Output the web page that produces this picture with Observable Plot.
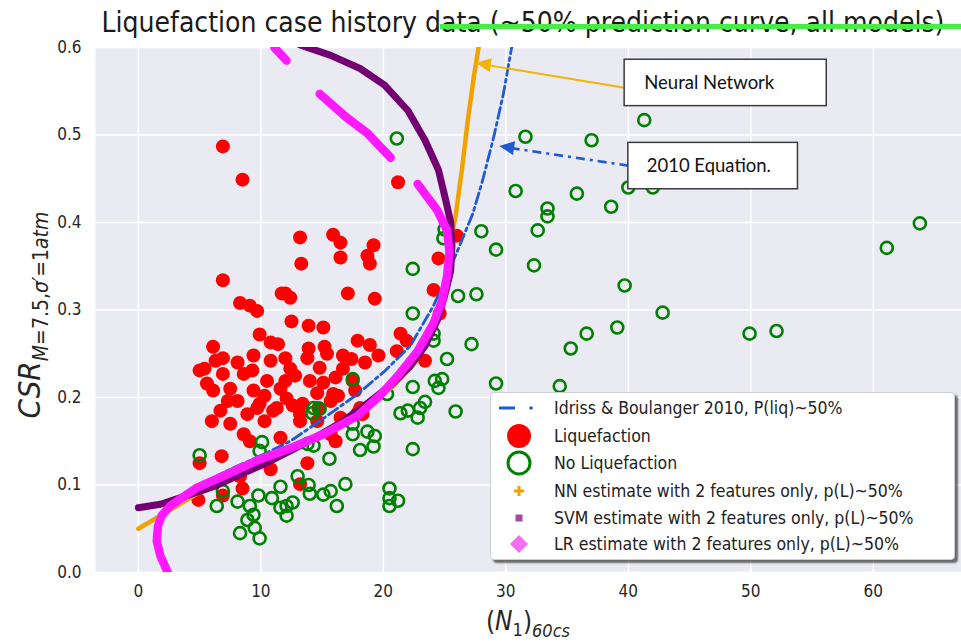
<!DOCTYPE html>
<html><head><meta charset="utf-8">
<script src="https://cdn.jsdelivr.net/npm/d3@7"></script>
<script src="https://cdn.jsdelivr.net/npm/@observablehq/plot@0.6"></script>
<style>
body{margin:0;background:#fff;}
#wrap{position:relative;width:961px;height:642px;overflow:hidden;background:#fff;}
#title{position:absolute;left:90px;top:7px;width:866px;text-align:center;font-family:"DejaVu Sans Condensed","DejaVu Sans",sans-serif;font-stretch:condensed;font-size:28px;line-height:32px;color:#1a1a1a;white-space:nowrap;}
#strike{position:absolute;left:440px;top:24px;width:521px;height:5px;background:#47ec47;}
#chart{position:absolute;left:0;top:40px;}
#legend{position:absolute;left:490px;top:392px;width:463px;height:166px;background:#fff;border:1px solid #cfcfcf;border-radius:4px;box-shadow:3px 3px 2px rgba(0,0,0,0.55);}
</style></head><body>
<div id="wrap">
  <div id="title">Liquefaction case history data (~50% prediction curve, all models)</div>
  <div id="strike"></div>
  <div id="chart"></div>
  <div id="legend"></div>
</div>
<script>
// ---- data ----
const liqN = [6.9,8.5,21.2,13.2,15.9,16.5,19.2,13.3,16.5,18.7,18.9,6.9,12.0,12.4,17.1,19.3,8.3,9.1,9.7,12.5,13.9,15.1,9.9,10.8,11.4,6.1,9.4,12.0,13.9,15.2,13.8,15.4,17.9,18.9,16.7,17.4,18.5,19.6,6.9,8.1,5.0,5.4,6.9,8.6,10.5,12.8,14.0,15.1,5.6,7.5,9.4,11.6,15.9,14.6,6.7,8.1,9.9,11.3,12.6,13.4,14.7,15.7,8.9,13.2,17.9,18.3,24.5,24.1,26.0,23.4,21.4,21.9,21.1,14.8,16.1,17.5,16.3,18.1,16.5,15.7,16.1,7.5,8.6,6.8,5.0,8.3,8.5,6.9,4.9,10.8,13.8,11.6,13.2,9.7,11.0,13.2,6.1,7.3,10.3,12.0,9.3,6.3,12.4,10.8,16.7,17.7,6.0,10.3,9.1,12.1,14.6,24.6,11.7];
const liqCSR = [0.487,0.449,0.446,0.383,0.386,0.377,0.374,0.353,0.360,0.362,0.353,0.334,0.319,0.314,0.319,0.313,0.308,0.305,0.299,0.287,0.282,0.280,0.272,0.263,0.261,0.258,0.248,0.245,0.256,0.258,0.245,0.250,0.265,0.260,0.248,0.244,0.240,0.248,0.245,0.240,0.231,0.233,0.227,0.227,0.219,0.225,0.219,0.217,0.216,0.210,0.208,0.210,0.204,0.205,0.185,0.196,0.193,0.188,0.191,0.193,0.188,0.196,0.181,0.181,0.182,0.181,0.359,0.323,0.385,0.242,0.273,0.265,0.253,0.234,0.223,0.219,0.202,0.188,0.177,0.158,0.150,0.170,0.158,0.133,0.125,0.110,0.096,0.088,0.083,0.118,0.125,0.154,0.173,0.188,0.185,0.101,0.208,0.196,0.202,0.219,0.231,0.242,0.233,0.242,0.233,0.208,0.173,0.173,0.150,0.199,0.173,0.296,0.319];
const noLiqN = [21.1,41.3,31.6,37.0,30.8,35.8,40.0,42.0,33.4,33.4,38.6,32.6,28.0,29.2,63.8,61.1,32.3,39.7,42.8,26.1,27.6,49.9,52.1,36.6,39.1,35.3,27.2,25.2,29.2,34.4,24.8,22.4,25.0,24.9,22.4,24.1,24.1,17.5,22.4,24.2,24.5,20.3,23.4,23.0,21.4,22.0,22.8,25.9,14.3,14.8,14.2,5.0,10.1,9.9,17.5,18.7,19.3,17.5,18.1,19.2,22.4,13.8,14.3,15.6,13.0,13.9,15.7,16.9,15.1,16.2,11.6,10.9,12.1,12.6,9.8,9.1,8.1,6.4,6.9,9.4,8.9,9.5,8.3,9.9,20.5,20.5,21.2,20.5,14.0,12.1,11.6];
const noLiqCSR = [0.496,0.517,0.498,0.494,0.436,0.433,0.440,0.440,0.416,0.407,0.418,0.391,0.390,0.369,0.399,0.371,0.351,0.328,0.297,0.316,0.318,0.273,0.276,0.273,0.280,0.256,0.261,0.244,0.216,0.213,0.221,0.347,0.392,0.382,0.296,0.273,0.265,0.221,0.212,0.219,0.211,0.204,0.195,0.188,0.182,0.185,0.177,0.184,0.188,0.187,0.182,0.134,0.149,0.139,0.170,0.161,0.156,0.158,0.140,0.144,0.141,0.147,0.145,0.130,0.110,0.100,0.093,0.101,0.089,0.076,0.098,0.085,0.076,0.080,0.088,0.076,0.081,0.076,0.093,0.066,0.060,0.051,0.045,0.039,0.096,0.085,0.082,0.076,0.090,0.065,0.074];
const ibN   = [4.5,7.5,9.9,12.4,15.1,17.9,20.1,22.2,24.1,25.2,26.3,27.3,28.1,29.0,29.8,30.5];
const ibCSR = [0.097,0.118,0.133,0.150,0.176,0.204,0.230,0.259,0.305,0.339,0.376,0.410,0.448,0.497,0.547,0.602];
const nnN   = [0.0,1.8,4.2,6.7,9.1,11.6,14.0,16.5,18.9,20.9,22.6,23.8,24.6,25.2,25.5,25.9,26.4,26.9,27.4,27.8];
const nnCSR = [0.050,0.065,0.085,0.105,0.121,0.137,0.153,0.170,0.191,0.214,0.240,0.271,0.305,0.345,0.379,0.408,0.459,0.517,0.568,0.602];
const svmN   = [0.0,1.8,4.2,6.3,8.3,10.3,12.4,14.4,16.5,18.5,20.6,22.2,23.4,24.4,25.0,25.5,25.6,25.5,25.1,24.5,23.4,22.0,20.1,18.1,15.7,13.2];
const svmCSR = [0.074,0.078,0.089,0.099,0.112,0.124,0.139,0.154,0.171,0.191,0.214,0.236,0.259,0.288,0.316,0.345,0.374,0.400,0.425,0.460,0.494,0.528,0.557,0.576,0.591,0.603];
const lrN   = [2.4,1.8,1.5,1.6,1.9,2.6,3.2,4.8,6.9,9.7,12.4,15.1,17.9,19.7,21.2,22.8,24.1,24.8,25.2,25.4,25.2,24.4,22.8, 20.6,18.7,17.0,14.8, 12.1,11.1];
const lrCSR = [0.000,0.019,0.036,0.053,0.065,0.076,0.082,0.097,0.110,0.128,0.142,0.158,0.179,0.202,0.225,0.253,0.285,0.311,0.339,0.366,0.391,0.414,0.444, 0.474,0.502,0.520,0.547, 0.585,0.600];
const lrPart = [1,1,1,1,1,1,1,1,1,1,1,1,1,1,1,1,1,1,1,1,1,1,1, 2,2,2,2, 3,3];
const xTicks = [0,10,20,30,40,50,60];
const yTicks = [0.0,0.1,0.2,0.3,0.4,0.5,0.6];
const noteText = ["Neural Network","2010 Equation."];
const noteX1 = [39.7,40.0], noteX2 = [56.2,53.85];
const noteY1 = [0.533,0.438], noteY2 = [0.586,0.491];
const noteTextX = [41.3,41.5], noteTextY = [0.559,0.464];
const arrowFromN = [39.7,40.0], arrowFromCSR = [0.554,0.465];
const arrowToN = [27.6,29.5], arrowToCSR = [0.582,0.487];
const legendLabels = ["Idriss & Boulanger 2010, P(liq)~50%","Liquefaction","No Liquefaction","NN estimate with 2 features only, p(L)~50%","SVM estimate with 2 features only, p(L)~50%","LR estimate with 2 features only, p(L)~50%"];

const zip = (a,b,extra) => a.map((v,i)=>({x:v,y:b[i],k:extra?extra[i]:0}));
const liq = zip(liqN,liqCSR), noLiq = zip(noLiqN,noLiqCSR);
const ib = zip(ibN,ibCSR), nn = zip(nnN,nnCSR), svm = zip(svmN,svmCSR), lr = zip(lrN,lrCSR,lrPart);
const notes = noteText.map((t,i)=>({t,x1:noteX1[i],x2:noteX2[i],y1:noteY1[i],y2:noteY2[i],tx:noteTextX[i],ty:noteTextY[i]}));
const arrows = arrowFromN.map((v,i)=>({x1:v,y1:arrowFromCSR[i],x2:arrowToN[i],y2:arrowToCSR[i]}));

const FONT = '"DejaVu Sans Condensed","DejaVu Sans",sans-serif';
const BLUE = "#1f5bd0", GOLD = "#f4b400";

const plot = Plot.plot({
  width: 961, height: 602,
  marginTop: 7, marginBottom: 70, marginLeft: 95, marginRight: 0,
  style: {fontFamily: FONT, fontStretch: "condensed", fontSize: "17px", color: "#262626", background: "transparent", overflow: "visible"},
  x: {domain: [-3.5, 67.2], label: null},
  y: {domain: [0, 0.6], label: null},
  marks: [
    Plot.frame({fill: "#eaeaf2", stroke: null}),
    Plot.gridX(xTicks, {stroke: "white", strokeOpacity: 1, strokeWidth: 1.6}),
    Plot.gridY(yTicks, {stroke: "white", strokeOpacity: 1, strokeWidth: 1.6}),
    Plot.axisX(xTicks, {tickSize: 0, tickPadding: 12, label: null, fontSize: 17}),
    Plot.axisY(yTicks, {tickSize: 0, tickPadding: 14, label: null, fontSize: 17, tickFormat: d3.format(".1f")}),
    Plot.dot(liq, {x: "x", y: "y", r: 7, fill: "#ff0000", stroke: null}),
    Plot.dot(noLiq, {x: "x", y: "y", r: 6, stroke: "#008000", strokeWidth: 2.6, fill: "none"}),
    Plot.line(ib, {x: "x", y: "y", stroke: BLUE, strokeWidth: 2.8, strokeDasharray: "11,4,3,4", clip: true}),
    Plot.line(nn, {x: "x", y: "y", stroke: "#f2a200", strokeWidth: 4.5, clip: true}),
    Plot.line(svm, {x: "x", y: "y", stroke: "#730073", strokeWidth: 7, clip: true}),
    Plot.line(lr, {x: "x", y: "y", z: "k", stroke: "#ff19ff", strokeWidth: 8.5, clip: true}),
    Plot.link(arrows.slice(0,1), {x1: "x1", y1: "y1", x2: "x2", y2: "y2", stroke: GOLD, strokeWidth: 1.8}),
    Plot.link(arrows.slice(1,2), {x1: "x1", y1: "y1", x2: "x2", y2: "y2", stroke: BLUE, strokeWidth: 2.6, strokeDasharray: "9,5,3,5"}),
    Plot.rect(notes, {x1: "x1", x2: "x2", y1: "y1", y2: "y2", fill: "white", stroke: "#3a3a3a", strokeWidth: 1.5}),
    Plot.text(notes, {x: "tx", y: "ty", text: "t", textAnchor: "start", fontSize: 18.5, fill: "#111", fontFamily: "Lato, 'Open Sans', sans-serif"})
  ]
});
document.getElementById("chart").appendChild(plot);

// arrowheads computed through the plot's own scales
const sx = plot.scale("x"), sy = plot.scale("y");
const svg = d3.select(plot);
const heads = [{a: arrows[0], c: GOLD, len: 15, w: 7}, {a: arrows[1], c: BLUE, len: 15, w: 7}];
for (const h of heads) {
  const X1 = sx.apply(h.a.x1), Y1 = sy.apply(h.a.y1), X2 = sx.apply(h.a.x2), Y2 = sy.apply(h.a.y2);
  const dx = X2 - X1, dy = Y2 - Y1, L = Math.hypot(dx, dy), ux = dx / L, uy = dy / L;
  const bx = X2 - ux * h.len, by = Y2 - uy * h.len;
  svg.append("polygon")
    .attr("points", [[X2, Y2], [bx - uy * h.w, by + ux * h.w], [bx + uy * h.w, by - ux * h.w]].map(p => p.join(",")).join(" "))
    .attr("fill", h.c);
}

// axis labels (mathtext style)
const yl = svg.append("text")
  .attr("transform", "translate(40,275) rotate(-90)")
  .attr("text-anchor", "middle")
  .attr("fill", "#262626")
  .style("font-family", '"DejaVu Sans", sans-serif')
  .style("font-size", "31px");
yl.append("tspan").style("font-style", "italic").text("CSR");
yl.append("tspan").attr("dy", 8).style("font-size", "21px").style("font-style", "italic").text("M");
yl.append("tspan").style("font-size", "21px").text("=7.5,");
yl.append("tspan").style("font-size", "21px").style("font-style", "italic").text("σ′");
yl.append("tspan").style("font-size", "21px").text("=1");
yl.append("tspan").style("font-size", "21px").style("font-style", "italic").text("atm");

const xl = svg.append("text")
  .attr("x", 528).attr("y", 590)
  .attr("text-anchor", "middle")
  .attr("fill", "#262626")
  .style("font-family", '"DejaVu Sans", sans-serif')
  .style("font-stretch", "condensed")
  .style("font-size", "26px");
xl.append("tspan").text("(");
xl.append("tspan").style("font-style", "italic").text("N");
xl.append("tspan").attr("dy", 6).style("font-size", "18px").text("1");
xl.append("tspan").attr("dy", -6).text(")");
xl.append("tspan").attr("dy", 7).style("font-size", "18px").style("font-style", "italic").text("60cs");

// legend
const lg = d3.select("#legend").append("svg").attr("width", 463).attr("height", 166)
  .style("font-family", FONT).style("font-stretch", "condensed");
const rowY = [15, 43, 70, 98, 125, 151];
lg.append("line").attr("x1", 8).attr("x2", 24).attr("y1", rowY[0]).attr("y2", rowY[0]).attr("stroke", BLUE).attr("stroke-width", 3);
lg.append("circle").attr("cx", 40).attr("cy", rowY[0]).attr("r", 1.8).attr("fill", BLUE);
lg.append("circle").attr("cx", 28).attr("cy", rowY[1]).attr("r", 12).attr("fill", "#ff0000");
lg.append("circle").attr("cx", 28).attr("cy", rowY[2]).attr("r", 11).attr("fill", "none").attr("stroke", "#008000").attr("stroke-width", 3);
lg.append("path").attr("d", `M${23},${rowY[3]}h10M28,${rowY[3]-5}v10`).attr("stroke", "#f2a200").attr("stroke-width", 3);
lg.append("rect").attr("x", 24.5).attr("y", rowY[4] - 3.5).attr("width", 7).attr("height", 7).attr("fill", "#a448a4");
lg.append("path").attr("d", `M28,${rowY[5]-9}L37,${rowY[5]}L28,${rowY[5]+9}L19,${rowY[5]}Z`).attr("fill", "#f46ef4");
lg.selectAll("text.l").data(legendLabels).join("text")
  .attr("x", 63).attr("y", (d, i) => rowY[i]).attr("dy", "0.36em")
  .attr("fill", "#222").style("font-size", "17.5px").text(d => d);
</script>
</body></html>
